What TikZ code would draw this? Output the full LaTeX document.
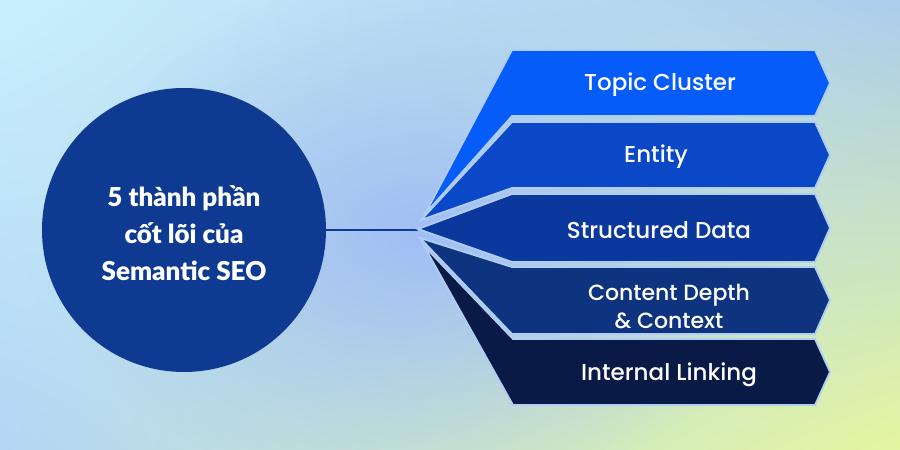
\documentclass[tikz,border=0pt]{standalone}
\usepackage{fontspec}
\setmainfont{Poppins}
\newfontfamily\bandfont{Poppins Medium}
\newfontfamily\circfont{Lato Black}
\usetikzlibrary{fadings,shadings}
\definecolor{bgTL}{RGB}{200,240,252}
\definecolor{bgTR}{RGB}{172,205,236}
\definecolor{bgBL}{RGB}{178,214,246}
\definecolor{bgBR}{RGB}{228,246,160}
\definecolor{bgMid}{RGB}{158,188,246}
\definecolor{cOne}{RGB}{6,92,248}
\definecolor{cTwo}{RGB}{10,72,200}
\definecolor{cThree}{RGB}{10,56,156}
\definecolor{cFour}{RGB}{14,52,128}
\definecolor{cFive}{RGB}{10,26,70}
\definecolor{cCirc}{RGB}{14,58,146}
\definecolor{gapc}{RGB}{175,205,245}
\tikzfading[name=softglow, inner color=transparent!0, outer color=transparent!100]
\tikzset{
  band/.style={draw=gapc, line width=1.8pt, line join=miter},
  btext/.style={text=white, font=\bandfont\fontsize{23}{28}\selectfont, align=center},
}
\begin{document}
\begin{tikzpicture}[x=1pt,y=-1pt]
\useasboundingbox (0,0) rectangle (900,450);
\shade[upper left=bgTL, upper right=bgTR, lower left=bgBL, lower right=bgBR] (0,0) rectangle (900,450);
\fill[bgMid, path fading=softglow, opacity=0.95] (420,235) ellipse (380 and 260);
% circle
\node[circle, fill=cCirc, minimum size=284pt, inner sep=0pt] (hub) at (184,230) {};
\node[text=white, font=\circfont\fontsize{26}{37}\selectfont, align=center] (htxt) at (184,233) {5 thành phần\\cốt lõi của\\Semantic SEO};
\coordinate (apex) at (418,230);
\draw[cCirc, line width=2pt] (hub.east) -- (apex);
% bands
\fill[cOne, band] (425,214) -- (512,50) -- (815,50) -- (830,83) -- (815,116) -- (512,116) -- cycle;
\fill[cTwo, band] (421,220) -- (512,122) -- (815,122) -- (830,155) -- (815,188) -- (512,188) -- cycle;
\fill[cThree, band] (418,229) -- (512,194) -- (815,194) -- (830,228) -- (815,262) -- (512,262) -- cycle;
\fill[cFour, band] (420,238) -- (512,267) -- (815,267) -- (830,300) -- (815,334) -- (512,334) -- cycle;
\fill[cFive, band] (424,246) -- (513,339) -- (815,339) -- (830,372) -- (815,405) -- (513,405) -- cycle;
\node[btext] (t1) at (660,85) {Topic Cluster};
\node[btext] (t2) at (656,157) {Entity};
\node[btext] (t3) at (659,230) {Structured Data};
\node[btext, font=\bandfont\fontsize{22}{28}\selectfont] (t4) at (669,306) {Content Depth\\\& Context};
\node[btext] (t5) at (669,375) {Internal Linking};
\end{tikzpicture}
\end{document}
